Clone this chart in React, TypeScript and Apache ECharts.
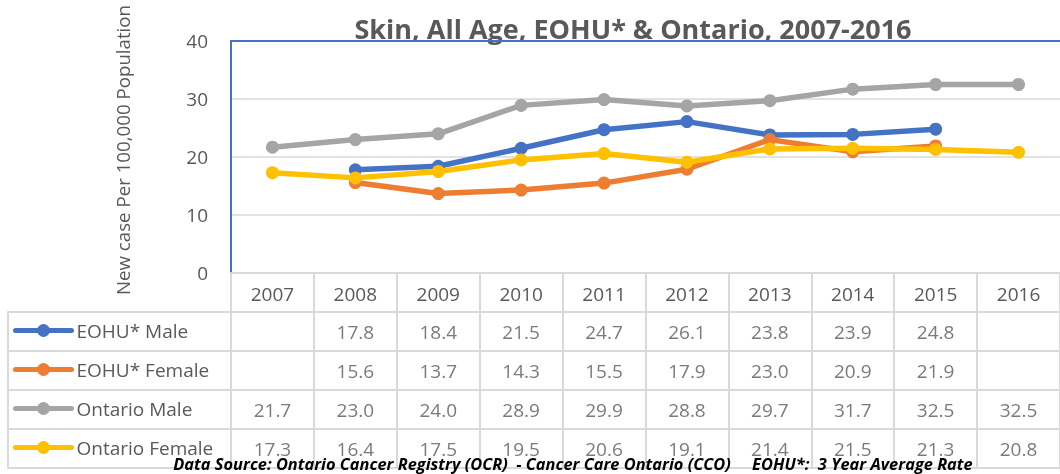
import React, { useEffect, useRef } from 'react';
import * as echarts from 'echarts';

const years = ['2007', '2008', '2009', '2010', '2011', '2012', '2013', '2014', '2015', '2016'];
const seriesNames = ['EOHU* Male', 'EOHU* Female', 'Ontario Male', 'Ontario Female'];
const eohuMale = [null, 17.8, 18.4, 21.5, 24.7, 26.1, 23.8, 23.9, 24.8, null];
const eohuFemale = [null, 15.6, 13.7, 14.3, 15.5, 17.9, 23.0, 20.9, 21.9, null];
const ontarioMale = [21.7, 23.0, 24.0, 28.9, 29.9, 28.8, 29.7, 31.7, 32.5, 32.5];
const ontarioFemale = [17.3, 16.4, 17.5, 19.5, 20.6, 19.1, 21.4, 21.5, 21.3, 20.8];
const colors = ['#4472C4', '#ED7D31', '#A5A5A5', '#FFC000'];
const titleText = 'Skin, All Age, EOHU* & Ontario, 2007-2016';
const yAxisTitle = 'New case Per 100,000 Population';
const sourceText = 'Data Source: Ontario Cancer Registry (OCR)  - Cancer Care Ontario (CCO)     EOHU*:  3 Year Average Rate';

export default function App() {
  const ref = useRef<HTMLDivElement>(null);
  useEffect(() => {
    const chart = echarts.init(ref.current!, null, { renderer: 'svg' });
    const rows = [eohuMale, eohuFemale, ontarioMale, ontarioFemale];
    const cells: any[] = [];
    rows.forEach((r, ri) =>
      r.forEach((v, xi) => {
        if (v != null) cells.push([xi, ri, v]);
      })
    );
    const gray = '#D9D9D9';
    const txt = '#595959';
    const font = '"Open Sans", sans-serif';
    const blue = '#4472C4';

    chart.setOption({
      animation: false,
      textStyle: { fontFamily: font },
      grid: [
        { left: 231, top: 41, width: 836, height: 232 },
        { left: 231, top: 312, width: 836, height: 156 },
        { left: 8, top: 312, width: 223, height: 156 },
      ],
      legend: {
        orient: 'vertical',
        left: 13,
        top: 321,
        padding: 0,
        itemWidth: 56,
        itemHeight: 16,
        itemGap: 20,
        data: seriesNames,
        lineStyle: { width: 5, cap: 'round' },
        textStyle: { fontSize: 19, lineHeight: 19, color: txt, fontFamily: font },
      },
      xAxis: [
        {
          gridIndex: 0,
          type: 'category',
          data: years,
          boundaryGap: true,
          axisLine: { show: true, lineStyle: { color: gray, width: 2 } },
          axisTick: { show: true, length: 39, interval: 0, lineStyle: { color: gray, width: 2 } },
          axisLabel: { interval: 0, fontSize: 19, lineHeight: 19, color: txt, margin: 11, fontFamily: font },
          splitLine: { show: false },
        },
        {
          gridIndex: 0,
          type: 'category',
          data: years,
          position: 'top',
          axisLine: { show: true, lineStyle: { color: blue, width: 2 } },
          axisTick: { show: false },
          axisLabel: { show: false },
        },
        {
          gridIndex: 1,
          type: 'category',
          data: years,
          boundaryGap: true,
          axisLine: { show: true, lineStyle: { color: gray, width: 2 } },
          axisTick: { show: false },
          axisLabel: { show: false },
          splitLine: { show: true, interval: 0, lineStyle: { color: gray, width: 2 } },
        },
        {
          gridIndex: 2,
          type: 'value',
          min: 0,
          max: 1,
          show: false,
        },
      ],
      yAxis: [
        {
          gridIndex: 0,
          type: 'value',
          min: 0,
          max: 40,
          interval: 10,
          axisLine: { show: true, lineStyle: { color: blue, width: 2 } },
          axisTick: { show: false },
          axisLabel: { fontSize: 19, color: txt, margin: 23, fontFamily: font },
          splitLine: { show: true, lineStyle: { color: gray, width: 1.5 } },
        },
        {
          gridIndex: 1,
          type: 'category',
          data: seriesNames,
          inverse: true,
          axisLine: { show: false },
          axisTick: { show: false },
          axisLabel: { show: false },
          splitLine: { show: true, interval: 0, lineStyle: { color: gray, width: 2 } },
        },
        {
          gridIndex: 2,
          type: 'category',
          data: seriesNames,
          inverse: true,
          axisLine: { show: true, lineStyle: { color: gray, width: 2 } },
          axisTick: { show: false },
          axisLabel: { show: false },
          splitLine: { show: true, interval: 0, lineStyle: { color: gray, width: 2 } },
        },
      ],
      series: [
        ...rows.map((r, i) => ({
          name: seriesNames[i],
          type: 'line',
          xAxisIndex: 0,
          yAxisIndex: 0,
          data: r,
          color: colors[i],
          symbol: 'circle',
          symbolSize: 13,
          lineStyle: { width: 5.5, color: colors[i], cap: 'round' },
          itemStyle: { color: colors[i] },
          connectNulls: false,
          z: 2 + i,
        })),
        {
          name: 'table',
          type: 'scatter',
          xAxisIndex: 2,
          yAxisIndex: 1,
          data: cells,
          symbolSize: 0,
          silent: true,
          label: {
            show: true,
            position: 'inside',
            fontSize: 19,
            color: txt,
            fontFamily: font,
            formatter: (p: any) => Number(p.value[2]).toFixed(1),
          },
        },
      ],
      graphic: [
        {
          type: 'text',
          x: 633,
          y: 28,
          style: {
            text: titleText,
            align: 'center',
            verticalAlign: 'middle',
            fontSize: 27,
            fontWeight: 'bold',
            fontFamily: font,
            fill: txt,
          },
        },
        {
          type: 'text',
          x: 122,
          y: 150,
          rotation: Math.PI / 2,
          style: {
            text: yAxisTitle,
            align: 'center',
            verticalAlign: 'middle',
            fontSize: 18.7,
            fontFamily: font,
            fill: txt,
          },
        },
        {
          type: 'text',
          x: 573,
          y: 463,
          z: 100,
          style: {
            text: sourceText,
            align: 'center',
            verticalAlign: 'middle',
            fontSize: 16.4,
            fontWeight: 'bold',
            fontStyle: 'italic',
            fontFamily: font,
            fill: '#000',
          },
        },
      ],
    });
    return () => chart.dispose();
  }, []);
  return <div ref={ref} style={{ position: 'fixed', left: 0, top: 0, width: 1060, height: 474 }} />;
}
